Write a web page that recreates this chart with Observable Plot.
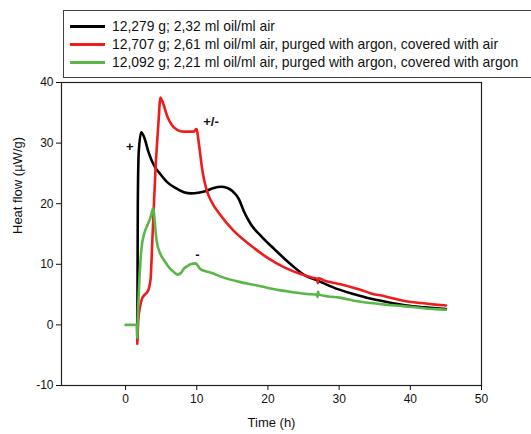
<!DOCTYPE html>
<html>
<head>
<meta charset="utf-8">
<script src="https://cdn.jsdelivr.net/npm/d3@7"></script>
<script src="https://cdn.jsdelivr.net/npm/@observablehq/plot@0.6"></script>
<style>
  html, body { margin: 0; padding: 0; background: #fff; overflow: hidden; }
  body { width: 531px; height: 434px; position: relative; font-family: Arial, "Liberation Sans", sans-serif; }
  #legend { position: absolute; left: 63px; top: 10px; width: 500px; height: 66px; border: 1px solid #444; background: #fff; z-index: 2; }
  .row { position: absolute; left: 0; height: 18px; line-height: 18px; font-size: 13.9px; color: #111; white-space: nowrap; }
  .sw { position: absolute; left: 6px; top: 8px; width: 35px; height: 3px; }
  .lab { position: absolute; left: 48px; top: 0; }
  #chart { position: absolute; left: 0; top: 0; z-index: 1; }
</style>
</head>
<body>
<div id="chart"></div>
<div id="legend"></div>
<script>
// ---- data ----
const seriesNames = [
  "12,279 g; 2,32 ml oil/ml air",
  "12,707 g; 2,61 ml oil/ml air, purged with argon, covered with air",
  "12,092 g; 2,21 ml oil/ml air, purged with argon, covered with argon"
];
const seriesColors = ["#000000", "#f01c1c", "#5ab648"];

const blackT = [1.64, 1.67, 1.72, 1.85, 2.2, 2.6, 3.2, 4.0, 4.8, 5.8, 7.0, 8.2, 9.2, 10.2, 11.3, 12.4, 13.4, 14.3, 15.0, 15.9, 16.6, 17.6, 19.0, 20.9, 23.2, 25.3, 27.0, 29.8, 32.0, 34.5, 37.0, 39.5, 42.0, 45.0];
const blackV = [-2.5, 3.0, 20.0, 28.5, 31.8, 31.0, 28.6, 26.3, 25.0, 23.6, 22.6, 21.9, 21.7, 21.8, 22.1, 22.6, 22.8, 22.6, 22.1, 20.8, 18.8, 16.6, 14.7, 12.5, 10.0, 8.1, 7.3, 5.9, 5.1, 4.3, 3.7, 3.2, 2.9, 2.6];

const redT = [1.64, 1.8, 2.0, 2.3, 2.7, 3.1, 3.5, 3.8, 4.2, 4.6, 4.9, 5.2, 5.9, 6.5, 7.0, 7.6, 8.2, 9.0, 9.6, 9.9, 10.0, 10.3, 10.8, 11.4, 12.0, 13.4, 15.2, 17.6, 19.9, 22.3, 24.6, 26.3, 26.95, 27.0, 27.08, 28.0, 29.8, 31.5, 33.0, 34.5, 36.5, 39.0, 41.5, 43.5, 45.0];
const redV = [-3.1, 1.0, 2.8, 4.3, 5.0, 5.5, 7.4, 15.0, 25.5, 33.0, 37.5, 36.8, 34.3, 33.0, 32.4, 32.0, 31.9, 31.9, 31.9, 32.3, 32.2, 29.9, 25.4, 22.2, 20.5, 18.0, 15.5, 13.1, 11.1, 9.5, 8.4, 7.8, 7.6, 6.9, 7.7, 7.3, 6.8, 6.3, 5.8, 5.2, 4.7, 4.0, 3.6, 3.35, 3.2];

const greenT = [0, 1.55, 1.64, 1.7, 1.87, 2.2, 2.6, 3.05, 3.5, 3.9, 4.1, 4.36, 4.9, 5.5, 6.1, 6.7, 7.3, 7.8, 8.2, 8.7, 9.1, 9.85, 10.2, 10.5, 12.0, 13.8, 16.0, 18.5, 20.0, 21.8, 23.5, 25.5, 26.9, 26.97, 27.05, 27.15, 28.5, 30.0, 32.1, 34.5, 36.8, 39.0, 41.5, 43.5, 45.0];
const greenV = [0, 0, -2.2, 0.5, 5.6, 12.2, 15.0, 16.4, 17.7, 19.3, 17.0, 13.9, 11.7, 10.5, 9.5, 8.8, 8.3, 8.6, 9.3, 9.7, 10.0, 10.15, 9.7, 9.2, 8.6, 7.8, 7.1, 6.5, 6.1, 5.7, 5.4, 5.1, 5.0, 4.6, 5.5, 5.0, 4.7, 4.5, 4.0, 3.6, 3.3, 3.1, 2.8, 2.6, 2.5];

const xTicks = [0, 10, 20, 30, 40, 50];
const yTicks = [-10, 0, 10, 20, 30, 40];
const xLabel = "Time (h)";
const yLabel = "Heat flow (µW/g)";

const annText = ["+", "+/-", "-"];
const annT = [0.6, 12.0, 10.1];
const annV = [29.4, 33.5, 11.6];

// ---- build ----
const seriesT = [blackT, redT, greenT];
const seriesV = [blackV, redV, greenV];
const rows = [];
seriesT.forEach((ts, i) => ts.forEach((t, j) => rows.push({s: seriesNames[i], t, v: seriesV[i][j]})));
const ann = annText.map((txt, i) => ({txt, t: annT[i], v: annV[i]}));

const legend = document.getElementById("legend");
seriesNames.forEach((name, i) => {
  const r = document.createElement("div");
  r.className = "row";
  r.style.top = (6 + i * 18) + "px";
  r.innerHTML = `<span class="sw" style="background:${seriesColors[i]}"></span><span class="lab">${name}</span>`;
  legend.appendChild(r);
});

const chart = Plot.plot({
  width: 531,
  height: 434,
  marginLeft: 61,
  marginRight: 50,
  marginTop: 82,
  marginBottom: 49,
  style: {fontFamily: "Arial, 'Liberation Sans', sans-serif", fontSize: "12px", color: "#111", background: "#fff"},
  x: {domain: [-9, 50]},
  y: {domain: [-10, 40]},
  color: {domain: seriesNames, range: seriesColors},
  marks: [
    Plot.frame({stroke: "#222", strokeWidth: 1.2}),
    Plot.axisX({ticks: xTicks, tickFormat: d => String(d), tickSize: 5, tickPadding: 4, fontSize: 12, label: null, stroke: "#111"}),
    Plot.axisY({ticks: yTicks, tickFormat: d => String(d), tickSize: 5, tickPadding: 3, fontSize: 12, label: null, stroke: "#111"}),
    Plot.text([xLabel], {frameAnchor: "bottom", dy: 41, text: d => d, fontSize: 13, fill: "#111"}),
    Plot.text([yLabel], {frameAnchor: "left", dx: -44, rotate: -90, text: d => d, fontSize: 13, fill: "#111"}),
    Plot.line(rows, {x: "t", y: "v", z: "s", stroke: "s", strokeWidth: 2.6, curve: "monotone-x"}),
    Plot.text(ann, {x: "t", y: "v", text: "txt", fontWeight: "bold", fontSize: 13, fill: "#111"})
  ]
});
document.getElementById("chart").appendChild(chart);
</script>
</body>
</html>
